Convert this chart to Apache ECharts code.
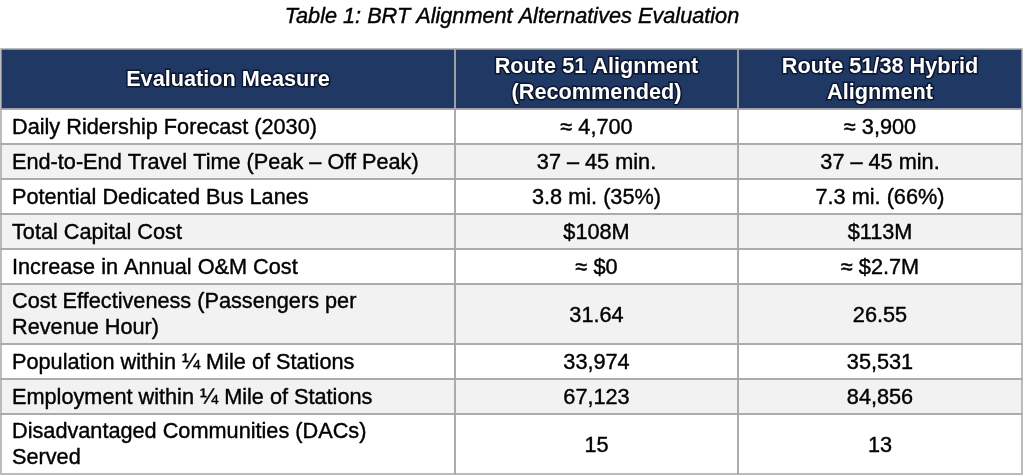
<!DOCTYPE html>
<html><head><meta charset="utf-8">
<script src="https://cdn.jsdelivr.net/npm/echarts@6/dist/echarts.min.js"></script>
<style>html,body{margin:0;padding:0;background:#fff}#c{width:1024px;height:475px}</style>
</head><body><div id="c"></div>
<script>
const titleText = 'Table 1: BRT Alignment Alternatives Evaluation';
const headers = ['Evaluation Measure', 'Route 51 Alignment\n(Recommended)', 'Route 51/38 Hybrid\nAlignment'];
const measures = [
  'Daily Ridership Forecast (2030)',
  'End-to-End Travel Time (Peak \u2013 Off Peak)',
  'Potential Dedicated Bus Lanes',
  'Total Capital Cost',
  'Increase in Annual O&M Cost',
  'Cost Effectiveness (Passengers per\nRevenue Hour)',
  'Population within \u00bc Mile of Stations',
  'Employment within \u00bc Mile of Stations',
  'Disadvantaged Communities (DACs)\nServed'
];
const route51 = ['\u2248 4,700', '37 \u2013 45 min.', '3.8 mi. (35%)', '$108M', '\u2248 $0', '31.64', '33,974', '67,123', '15'];
const hybrid = ['\u2248 3,900', '37 \u2013 45 min.', '7.3 mi. (66%)', '$113M', '\u2248 $2.7M', '26.55', '35,531', '84,856', '13'];

// ---- layout (axis units = table pixels) ----
const FONT = '"Liberation Sans", Arial, Helvetica, sans-serif';
const FS = 21.7;
const colWidths = [454, 283, 284];
const lineRowH = 35, twoLineRowH = 60, headerH = 60;

const rows = [headers].concat(measures.map((m, i) => [m, route51[i], hybrid[i]]));
const rowEdges = [0];
rows.forEach((r, i) => {
  const lines = Math.max(...r.map(t => t.split('\n').length));
  const h = i === 0 ? headerH : (lines > 1 ? twoLineRowH : lineRowH);
  rowEdges.push(rowEdges[i] + h);
});
const colEdges = [0];
colWidths.forEach((w, i) => colEdges.push(colEdges[i] + w));
const totalW = colEdges[colEdges.length - 1];
const totalH = rowEdges[rowEdges.length - 1];

const cells = [];
rows.forEach((r, ri) => r.forEach((t, ci) => {
  cells.push({ value: [colEdges[ci], rowEdges[ri], colEdges[ci + 1], rowEdges[ri + 1]], text: t, row: ri, col: ci });
}));

const chart = echarts.init(document.getElementById('c'), null, { renderer: 'canvas' });
chart.setOption({
  animation: false,
  title: {
    text: titleText, left: 'center', top: 5, padding: 0,
    textStyle: { fontFamily: FONT, fontSize: FS, fontStyle: 'italic', fontWeight: 'normal', color: '#000', lineHeight: 24,
      textBorderColor: '#000', textBorderWidth: 0.4 }
  },
  grid: { left: 1, top: 49, width: totalW, height: totalH },
  xAxis: { type: 'value', min: 0, max: totalW, show: false },
  yAxis: { type: 'value', min: 0, max: totalH, inverse: true, show: false },
  series: [{
    type: 'custom',
    coordinateSystem: 'cartesian2d',
    data: cells.map(c => c.value),
    clip: false,
    renderItem: function (params, api) {
      const c = cells[params.dataIndex];
      const p0 = api.coord([api.value(0), api.value(1)]);
      const p1 = api.coord([api.value(2), api.value(3)]);
      const x = p0[0], y = p0[1], w = p1[0] - p0[0], h = p1[1] - p0[1];
      const isHeader = c.row === 0;
      const fill = isHeader ? '#203864' : (c.row % 2 === 0 ? '#f2f2f2' : '#ffffff');
      const leftAligned = !isHeader && c.col === 0;
      const multi = c.text.indexOf('\n') >= 0;
      const textStyle = isHeader ? {
        text: c.text, x: x + w / 2, y: y + h / 2 + 1.5, align: 'center', verticalAlign: 'middle',
        font: 'bold ' + FS + 'px ' + FONT, lineHeight: 26, fill: '#ffffff', stroke: '#0c1730', lineWidth: 3
      } : {
        text: c.text, x: leftAligned ? x + 11 : x + w / 2, y: y + h / 2 + (multi ? 1.5 : 2),
        align: leftAligned ? 'left' : 'center', verticalAlign: 'middle',
        font: FS + 'px ' + FONT, lineHeight: 26, fill: '#000000', stroke: '#000000', lineWidth: 0.4
      };
      return {
        type: 'group',
        children: [
          { type: 'rect', z2: 0, shape: { x: x, y: y, width: w, height: h }, style: { fill: fill } },
          { type: 'rect', z2: 5, shape: { x: x, y: y, width: w, height: h }, style: { fill: null, stroke: '#a6a6a6', lineWidth: 1.5 } },
          { type: 'text', z2: 10, style: textStyle }
        ]
      };
    }
  }]
});
</script>
</body></html>
